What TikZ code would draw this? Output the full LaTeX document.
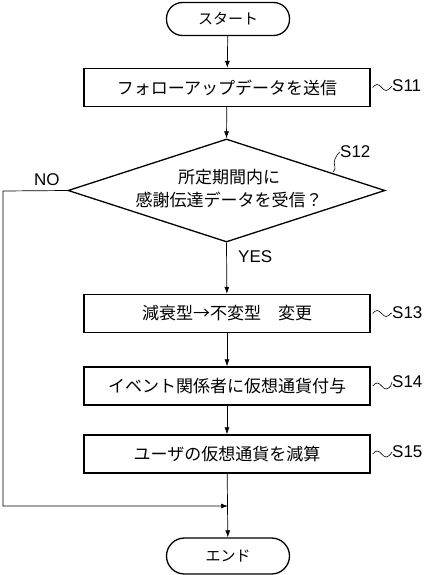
\documentclass[tikz,border=0pt]{standalone}
\usepackage{fontspec}
\setmainfont{Liberation Sans}
\newfontfamily\jp{Noto Sans CJK JP}
\usetikzlibrary{shapes.geometric,arrows.meta}
\begin{document}
\begin{tikzpicture}[x=1pt,y=-1pt,
  stepbox/.style={draw, line width=1.3pt, minimum width=286pt, minimum height=38pt, inner sep=0pt, font=\jp\fontsize{17}{20}\selectfont},
  term/.style={draw, rounded corners=16pt, line width=1.3pt, minimum width=123pt, minimum height=33pt, inner sep=0pt, font=\jp\fontsize{15}{18}\selectfont},
  conn/.style={line width=0.7pt, -{Latex[length=7pt,width=5pt]}},
  lab/.style={font=\fontsize{17}{19}\selectfont, inner sep=0pt, anchor=west},
  tld/.style={line width=0.6pt}]
\useasboundingbox (0,0) rectangle (425,575);
\node[term] (st) at (228,19) {スタート};
\node[stepbox] (b1) at (227,87.5) {フォローアップデータを送信};
\node[draw, diamond, line width=1.3pt, minimum width=317pt, minimum height=103pt, inner sep=0pt] (d) at (226.5,190.5) {};
\node[font=\jp\fontsize{17}{23}\selectfont, align=center, inner sep=0pt] (dt) at (229,189) {所定期間内に\\感謝伝達データを受信？};
\node[stepbox] (b3) at (227,313.5) {減衰型→不変型　変更};
\node[stepbox] (b4) at (227,386) {イベント関係者に仮想通貨付与};
\node[stepbox] (b5) at (227,454) {ユーザの仮想通貨を減算};
\node[term, minimum height=36pt, rounded corners=18pt] (en) at (228,556) {エンド};
\coordinate (m) at (228,506);
\coordinate (nc) at (3,191);
% labels
\node[lab] (l1) at (392,86) {S11};
\node[lab] (l2) at (340,152) {S12};
\node[lab] (l3) at (392,313) {S13};
\node[lab] (l4) at (392,382) {S14};
\node[lab] (l5) at (392,452) {S15};
\node[lab] (yes) at (238,257) {YES};
\node[lab] (no) at (34,180) {NO};
% tildes
\foreach \b/\l in {b1/l1,b3/l3,b4/l4,b5/l5}{
  \draw[tld] (\b.east) ++(2,0) sin ++(4.5,-3) cos ++(4.5,3) sin ++(4.5,3) cos ++(4.5,-3) -- (\l.west);
}
\draw[tld] (333,172) .. controls (338,168) and (332,164) .. (335,159) .. controls (337,155) and (338,153) .. (l2.west);
% connectors
\draw[conn] (st) -- (b1);
\draw[conn] (b1) -- (d.north);
\draw[conn] (d.south) -- (b3);
\draw[conn] (b3) -- (b4);
\draw[conn] (b4) -- (b5);
\draw[conn] (b5) -- (en);
\draw[conn] (d.west) -- (nc) |- (m);
\end{tikzpicture}
\end{document}
